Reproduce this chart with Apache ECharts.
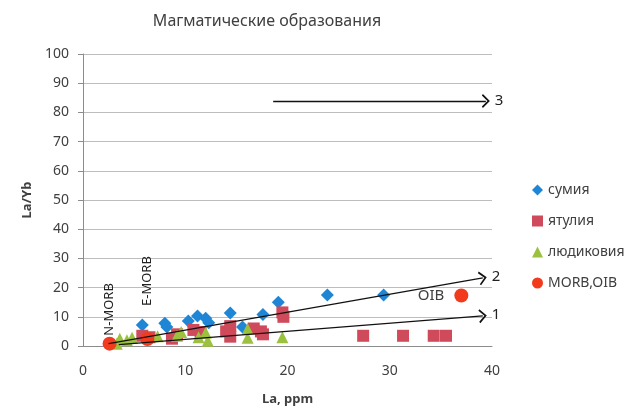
<!DOCTYPE html>
<html>
<head>
<meta charset="utf-8">
<script src="https://cdn.jsdelivr.net/npm/echarts@6/dist/echarts.min.js"></script>
<style>
  html, body { margin: 0; padding: 0; background: #fff; }
  #container { width: 638px; height: 410px; }
</style>
</head>
<body>
<div id="container"></div>
<script>
    // La (ppm) vs La/Yb
    var sumiya = [[5.8, 7.2], [8.0, 7.8], [8.2, 6.5], [10.3, 8.6], [11.2, 10.3], [12.0, 9.5], [12.3, 8.0],
        [14.4, 11.3], [15.6, 6.5], [17.6, 10.8], [19.1, 15.0], [23.9, 17.5], [29.4, 17.5]];
    var yatuliya = [[5.8, 3.5], [6.5, 3.0], [8.7, 2.5], [9.2, 4.0], [10.8, 5.5], [11.5, 4.8], [14.0, 5.0],
        [14.4, 6.8], [14.4, 3.2], [16.7, 6.0], [17.4, 5.0], [17.6, 4.0], [19.5, 11.5], [19.6, 10.0],
        [27.4, 3.5], [31.3, 3.5], [34.3, 3.5], [35.5, 3.5]];
    var lyudikoviya = [[3.3, 0.8], [3.6, 2.5], [4.3, 2.0], [4.8, 2.8], [7.3, 3.3], [9.2, 3.5], [9.6, 4.8],
        [11.3, 3.0], [12.0, 4.5], [12.2, 1.8], [16.1, 5.8], [16.1, 2.8], [19.5, 3.0]];
    var morbOib = [[2.6, 0.8], [6.3, 2.4], [37.0, 17.3]];
    var morbNames = ['N-MORB', 'E-MORB', 'OIB'];

    // trend arrows: [start, end, label]
    var arrows = [
        [[3.5, 0.5], [39.1, 10.3], '1'],
        [[2.5, 0.8], [39.1, 23.3], '2'],
        [[18.6, 83.9], [39.4, 83.9], '3']
    ];

    var xTicks = [0, 10, 20, 30, 40];
    var yTicks = [0, 10, 20, 30, 40, 50, 60, 70, 80, 90, 100];

    var font = '"Noto Sans", "Open Sans", sans-serif';
    var txt = '#404040';
    var chevron = 'path://M0,10 L10,0 L20,10 L18,11.5 L10,3.5 L2,11.5 Z';

    var dom = document.getElementById('container');
    var myChart = echarts.init(dom);

    var morbData = morbOib.map(function (p, i) {
        var lab;
        if (i === 2) {
            lab = { show: true, position: 'left', distance: 10, formatter: morbNames[i], fontSize: 15, color: txt };
        } else {
            lab = {
                show: true, position: 'top', rotate: 90, align: 'left', verticalAlign: 'middle',
                distance: i === 0 ? 1 : 26, formatter: morbNames[i], fontSize: 13, color: '#222'
            };
        }
        return { value: p, label: lab };
    });

    var option = {
        animation: false,
        textStyle: { fontFamily: font },
        title: {
            text: 'Магматические образования',
            left: 262,
            textAlign: 'center',
            top: 8,
            textStyle: { fontFamily: font, fontSize: 16, fontWeight: 'normal', color: txt }
        },
        legend: {
            orient: 'vertical',
            left: 527,
            top: 178,
            itemGap: 17,
            itemWidth: 11,
            itemHeight: 11,
            data: ['сумия', 'ятулия', 'людиковия', 'MORB,OIB'],
            textStyle: { fontFamily: font, fontSize: 14, color: txt }
        },
        grid: { left: 83, right: 146, top: 54, bottom: 64, outerBoundsMode: 'none' },
        xAxis: {
            type: 'value',
            min: xTicks[0],
            max: xTicks[xTicks.length - 1],
            interval: 10,
            name: 'La, ppm',
            nameLocation: 'middle',
            nameGap: 47,
            nameTextStyle: { fontFamily: font, fontSize: 13, fontWeight: 'bold', color: txt },
            axisLine: { lineStyle: { color: '#8c8c8c' } },
            axisTick: { show: false },
            splitLine: { show: false },
            axisLabel: { fontSize: 14, color: txt, margin: 18 }
        },
        yAxis: {
            type: 'value',
            min: yTicks[0],
            max: yTicks[yTicks.length - 1],
            interval: 10,
            name: 'La/Yb',
            nameLocation: 'middle',
            nameRotate: 90,
            nameGap: 48,
            nameTextStyle: { fontFamily: font, fontSize: 13, fontWeight: 'bold', color: txt },
            axisLine: { show: true, lineStyle: { color: '#8c8c8c' } },
            axisTick: { show: true, length: 5, lineStyle: { color: '#8c8c8c' } },
            splitLine: { lineStyle: { color: '#bdbdbd' } },
            axisLabel: { fontSize: 14, color: txt, margin: 14 }
        },
        series: [
            {
                name: 'сумия', type: 'scatter', symbol: 'diamond', symbolSize: 13,
                itemStyle: { color: '#1f86d6', opacity: 1 }, data: sumiya
            },
            {
                name: 'ятулия', type: 'scatter', symbol: 'rect', symbolSize: 12,
                itemStyle: { color: '#cf4a5a', opacity: 1 }, data: yatuliya
            },
            {
                name: 'людиковия', type: 'scatter', symbol: 'triangle', symbolSize: 12,
                itemStyle: { color: '#9cc13f', opacity: 1 }, data: lyudikoviya
            },
            {
                name: 'MORB,OIB', type: 'scatter', symbol: 'circle', symbolSize: 14,
                itemStyle: { color: '#f23a1c', opacity: 1 }, data: morbData
            },
            {
                name: 'arrows', type: 'line', data: [], z: 5,
                markLine: {
                    silent: true,
                    symbol: ['none', chevron],
                    symbolSize: [14, 8],
                    lineStyle: { color: '#111', width: 1.3, type: 'solid' },
                    label: { show: true, position: 'end', fontSize: 15, color: '#222', distance: 9 },
                    data: arrows.map(function (a) {
                        return [
                            { coord: a[0], symbol: 'none' },
                            { coord: a[1], label: { formatter: a[2] } }
                        ];
                    })
                }
            }
        ]
    };

    myChart.setOption(option);
</script>
</body>
</html>
